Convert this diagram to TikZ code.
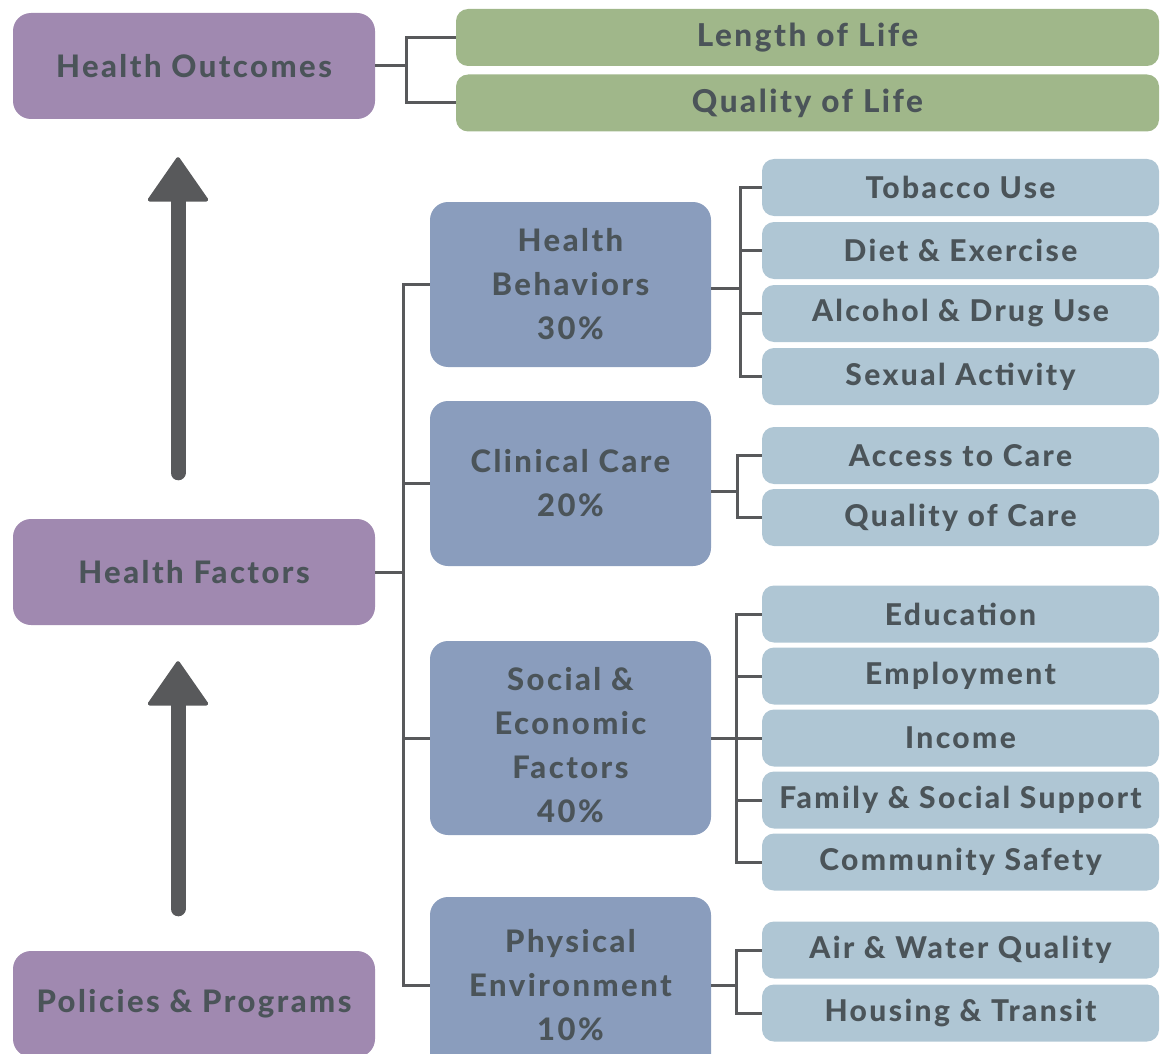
\documentclass[tikz,border=0pt]{standalone}
\usepackage{fontspec}
\setmainfont{Lato}[BoldFont={* Heavy},LetterSpace=8]
\usetikzlibrary{arrows.meta}
\definecolor{outpurple}{HTML}{A089B0}
\definecolor{outgreen}{HTML}{A0B78A}
\definecolor{factblue}{HTML}{8A9DBD}
\definecolor{leafblue}{HTML}{AFC6D4}
\definecolor{txtgray}{HTML}{4B5459}
\definecolor{linegray}{HTML}{58595B}
\begin{document}
\begin{tikzpicture}[x=1pt,y=-1pt,
  bigbox/.style={fill=outpurple,rounded corners=18pt,minimum width=362pt,minimum height=106pt,text=txtgray,font=\bfseries\fontsize{31}{36}\selectfont},
  lifebox/.style={fill=outgreen,rounded corners=12pt,minimum width=703pt,minimum height=57pt,text=txtgray,font=\bfseries\fontsize{31.5}{34}\selectfont},
  factbox/.style={fill=factblue,rounded corners=18pt,minimum width=281pt,text=txtgray,align=center,font=\bfseries\fontsize{31}{44}\selectfont},
  leafbox/.style={fill=leafblue,rounded corners=12pt,minimum width=397pt,minimum height=57pt,text=txtgray,font=\bfseries\fontsize{30}{32}\selectfont},
  link/.style={draw=linegray,line width=3pt},
  bigarrow/.style={draw=linegray,line width=15pt,line cap=round,-{Triangle[length=46pt,width=63pt,line width=4pt,round]}}]
\useasboundingbox (0,0) rectangle (1170,1054);
% left column
\node[bigbox] (ho) at (194,66) {Health Outcomes};
\node[bigbox] (hf) at (194,572) {Health Factors};
\node[bigbox] (pp) at (194,1004) {Policies \& Programs};
\draw[bigarrow,shorten <=46pt,shorten >=38pt] ([xshift=-16pt]hf.north) -- ([xshift=-16pt]ho.south);
\draw[bigarrow,shorten <=42pt,shorten >=36pt] ([xshift=-16pt]pp.north) -- ([xshift=-16pt]hf.south);
% outcomes
\node[lifebox] (len) at (807.5,37.5) {Length of Life};
\node[lifebox] (qol) at (807.5,103) {Quality of Life};
\coordinate (ho-j) at (406,66);
\draw[link] (ho.east) -- (ho-j);
\draw[link] (len.west) -| (ho-j) |- (qol.west);
% factors
\node[factbox,minimum height=165pt] (hb) at (570.5,284.5) {Health\\Behaviors\\30\%};
\node[factbox,minimum height=165pt] (cc) at (570.5,483.5) {Clinical Care\\20\%};
\node[factbox,minimum height=194pt] (se) at (570.5,738) {\\[-7pt]Social \&\\Economic\\Factors\\40\%};
\node[factbox,minimum height=176pt] (pe) at (570.5,985) {Physical\\Environment\\10\%};
\coordinate (hf-j) at (403,572);
\draw[link] (hf.east) -- (hf-j);
\draw[link] (hb.west) -| (hf-j) |- (pe.west);
\draw[link] (hf-j) |- (cc.west);
\draw[link] (hf-j) |- (se.west);
% leaves
\node[leafbox] (tob) at (960.5,187.5) {Tobacco Use};
\node[leafbox] (diet) at (960.5,250.5) {Diet \& Exercise};
\node[leafbox] (alc) at (960.5,313.5) {Alcohol \& Drug Use};
\node[leafbox] (sex) at (960.5,376.5) {Sexual Activity};
\node[leafbox] (acc) at (960.5,455.5) {Access to Care};
\node[leafbox] (qoc) at (960.5,517.5) {Quality of Care};
\node[leafbox] (edu) at (960.5,614) {Education};
\node[leafbox] (emp) at (960.5,676) {Employment};
\node[leafbox] (inc) at (960.5,738) {Income};
\node[leafbox] (fam) at (960.5,800) {Family \& Social Support};
\node[leafbox] (com) at (960.5,862) {Community Safety};
\node[leafbox] (air) at (960.5,950) {Air \& Water Quality};
\node[leafbox] (hou) at (960.5,1013) {Housing \& Transit};
\coordinate (hb-j) at (740,288);
\coordinate (cc-j) at (737,491);
\coordinate (se-j) at (736,738);
\coordinate (pe-j) at (736,985);
\draw[link] (hb.east|-hb-j) -- (hb-j);
\draw[link] (cc.east|-cc-j) -- (cc-j);
\draw[link] (se.east) -- (se-j);
\draw[link] (pe.east) -- (pe-j);
\foreach \a/\b in {hb/tob,hb/diet,hb/alc,hb/sex,cc/acc,cc/qoc,se/edu,se/emp,se/inc,se/fam,se/com,pe/air,pe/hou}
  \draw[link] (\a-j) |- (\b.west);
\end{tikzpicture}
\end{document}
